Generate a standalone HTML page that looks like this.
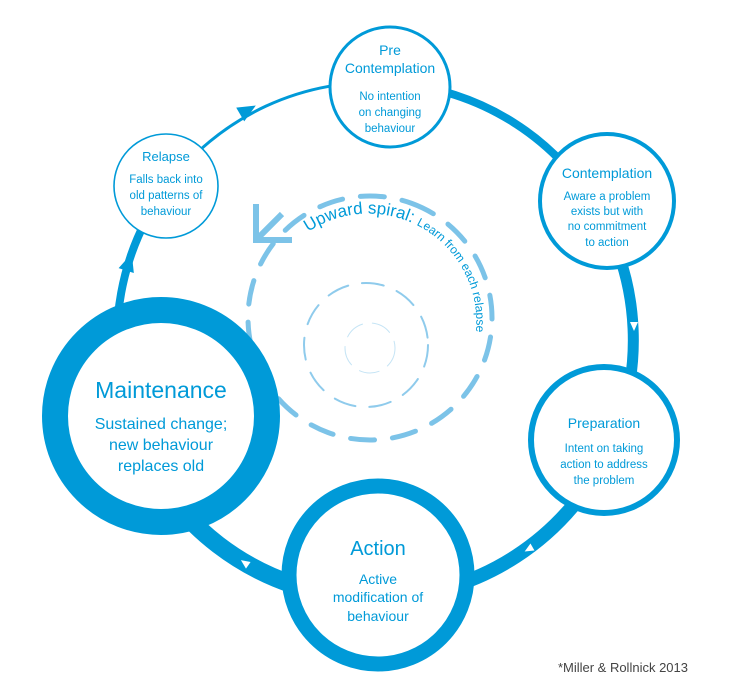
<!DOCTYPE html>
<html><head><meta charset="utf-8"><style>
html,body{margin:0;padding:0;background:#fff;}
svg{display:block;font-family:"Liberation Sans",sans-serif;}
</style></head><body>
<svg width="739" height="688" viewBox="0 0 739 688" xmlns="http://www.w3.org/2000/svg">
<defs>
<path id="sp" d="M 308 232 A 108 108 0 0 1 470 358"/>
</defs>
<g fill="none" stroke="#009ad8" stroke-linecap="butt">
<path d="M 393 83 A 258 258 0 0 1 601 215" stroke-width="8"/>
<path d="M 601 215 A 258 258 0 0 1 611 445" stroke-width="11"/>
<path d="M 611 445 A 258 258 0 0 1 375 598" stroke-width="14"/>
<path d="M 375 598 A 258 258 0 0 1 126 407" stroke-width="18"/>
<path d="M 126 407 A 258 258 0 0 1 166 188" stroke-width="8"/>
<path d="M 166 188 A 258 258 0 0 1 393 83" stroke-width="3"/>
</g>
<!-- big arrowheads -->
<path d="M -9 -8 L 9 0 L -9 8 Z" fill="#009ad8" transform="translate(129,262) rotate(-72)"/>
<path d="M -9 -8 L 9 0 L -9 8 Z" fill="#009ad8" transform="translate(248,110) rotate(-30)"/>
<!-- small white arrowheads -->
<g fill="#fff">
<path d="M -4 -4 L 5 0 L -4 4 Z" transform="translate(506,106) rotate(28)"/>
<path d="M -4 -4 L 5 0 L -4 4 Z" transform="translate(634,326) rotate(90)"/>
<path d="M -4 -4 L 5 0 L -4 4 Z" transform="translate(529,549) rotate(150)"/>
<path d="M -4 -4 L 5 0 L -4 4 Z" transform="translate(245,563) rotate(215)"/>
</g>
<!-- spiral -->
<g fill="none" stroke="#7cc3e8" stroke-linecap="round">
<circle cx="370" cy="318" r="122" stroke-width="5" stroke-dasharray="24 18" transform="rotate(-70 370 318)"/>
<circle cx="366" cy="345" r="62" stroke-width="2" stroke-dasharray="22 14" stroke="#8fcbec"/>
<circle cx="370" cy="348" r="25" stroke-width="1" stroke-dasharray="20 10" stroke="#c5e4f5"/>
<path d="M 256 204 L 256 240 L 292 240 M 256 240 L 282 214" stroke-width="6" stroke-linecap="butt"/>
</g>
<text fill="#009ad8" font-size="17"><textPath href="#sp">Upward spiral: <tspan font-size="12">Learn from each relapse</tspan></textPath></text>
<!-- nodes -->
<g fill="#fff" stroke="#009ad8">
<circle cx="390" cy="87" r="60" stroke-width="3"/>
<circle cx="607" cy="201" r="67" stroke-width="4"/>
<circle cx="604" cy="440" r="73" stroke-width="6"/>
<circle cx="378" cy="575" r="89" stroke-width="15"/>
<circle cx="161" cy="416" r="106" stroke-width="26"/>
<circle cx="166" cy="186" r="52" stroke-width="1.6"/>
</g>
<g fill="#009ad8" text-anchor="middle">
<text x="390" y="55" font-size="14">Pre</text>
<text x="390" y="73" font-size="14">Contemplation</text>
<text x="390" y="100" font-size="11.5">No intention</text>
<text x="390" y="116" font-size="11.5">on changing</text>
<text x="390" y="132" font-size="11.5">behaviour</text>

<text x="607" y="178" font-size="14">Contemplation</text>
<text x="607" y="200" font-size="11.5">Aware a problem</text>
<text x="607" y="215" font-size="11.5">exists but with</text>
<text x="607" y="230" font-size="11.5">no commitment</text>
<text x="607" y="246" font-size="11.5">to action</text>

<text x="604" y="428" font-size="14">Preparation</text>
<text x="604" y="452" font-size="11.5">Intent on taking</text>
<text x="604" y="468" font-size="11.5">action to address</text>
<text x="604" y="484" font-size="11.5">the problem</text>

<text x="378" y="555" font-size="20">Action</text>
<text x="378" y="584" font-size="14">Active</text>
<text x="378" y="602" font-size="14">modification of</text>
<text x="378" y="621" font-size="14">behaviour</text>

<text x="161" y="398" font-size="23">Maintenance</text>
<text x="161" y="429" font-size="16">Sustained change;</text>
<text x="161" y="450" font-size="16">new behaviour</text>
<text x="161" y="471" font-size="16">replaces old</text>

<text x="166" y="161" font-size="13">Relapse</text>
<text x="166" y="183" font-size="11.5">Falls back into</text>
<text x="166" y="199" font-size="11.5">old patterns of</text>
<text x="166" y="215" font-size="11.5">behaviour</text>
</g>
<text x="688" y="672" font-size="13" fill="#444" text-anchor="end">*Miller &amp; Rollnick 2013</text>
</svg>
</body></html>
